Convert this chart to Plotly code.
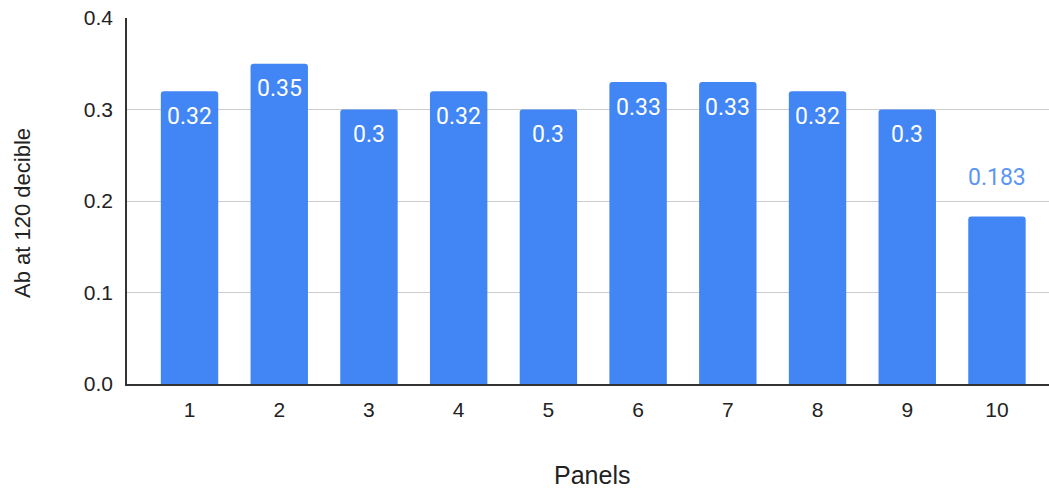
import plotly.graph_objects as go

# Absorbance at 120 decibel for each panel
panels = ["1", "2", "3", "4", "5", "6", "7", "8", "9", "10"]
absorbance = [0.32, 0.35, 0.3, 0.32, 0.3, 0.33, 0.33, 0.32, 0.3, 0.183]
value_labels = ["0.32", "0.35", "0.3", "0.32", "0.3", "0.33", "0.33", "0.32", "0.3", "0.183"]
y_ticks = [0.0, 0.1, 0.2, 0.3, 0.4]
y_tick_labels = ["0.0", "0.1", "0.2", "0.3", "0.4"]
x_title = "Panels"
y_title = "Ab at 120 decible"

BAR = "#4285F4"
AXIS_FONT = "Liberation Sans, Arial"
LABEL_FONT = "Roboto"
TEXT = "#222222"

fig = go.Figure(
    go.Bar(
        x=panels,
        y=absorbance,
        marker=dict(color=BAR, cornerradius=3, line=dict(width=0)),
        width=0.64,
        hoverinfo="x+y",
    )
)

# Value labels: inside near the top for tall bars, above the bar for short ones
for i, (val, txt) in enumerate(zip(absorbance, value_labels)):
    inside = val > 0.25
    fig.add_annotation(
        x=i, y=val, xref="x", yref="y", text=txt, showarrow=False,
        yshift=-25 if inside else 39,
        font=dict(family=LABEL_FONT, size=23, color="white" if inside else "#5B95F5"),
    )

# Axis titles
fig.add_annotation(
    x=592, y=475, xref="paper", yref="paper", text=x_title, showarrow=False,
    font=dict(family=AXIS_FONT, size=25, color=TEXT),
)
fig.add_annotation(
    x=22, y=213, text=y_title, showarrow=False, textangle=-90,
    font=dict(family=AXIS_FONT, size=22, color=TEXT),
)

# convert the two title annotations to pixel-based paper coordinates
W, H = 1049, 488
L, R, T, B = 127, 0, 18, 104
pw, ph = W - L - R, H - T - B
for ann in fig.layout.annotations[-2:]:
    px, py = ann.x, ann.y
    ann.xref, ann.yref = "paper", "paper"
    ann.x = (px - L) / pw
    ann.y = (H - B - py) / ph
    ann.xanchor, ann.yanchor = "center", "middle"

fig.update_layout(
    width=W, height=H,
    margin=dict(l=L, r=R, t=T, b=B),
    paper_bgcolor="white", plot_bgcolor="white",
    showlegend=False,
    font=dict(family=AXIS_FONT, size=21, color=TEXT),
    xaxis=dict(
        type="category",
        range=[-0.697, 9.58],
        showline=True, linecolor="#333333", linewidth=1.5,
        ticks="", tickfont=dict(size=21, color=TEXT),
        ticklabelstandoff=6,
        showgrid=False,
    ),
    yaxis=dict(
        range=[0, 0.4],
        tickvals=y_ticks, ticktext=y_tick_labels,
        showline=True, linecolor="#333333", linewidth=1.5,
        gridcolor="#CCCCCC", gridwidth=1,
        ticks="", ticklabelstandoff=8,
        tickfont=dict(size=21, color=TEXT),
        zeroline=False,
    ),
)

fig.write_html("out.html")
